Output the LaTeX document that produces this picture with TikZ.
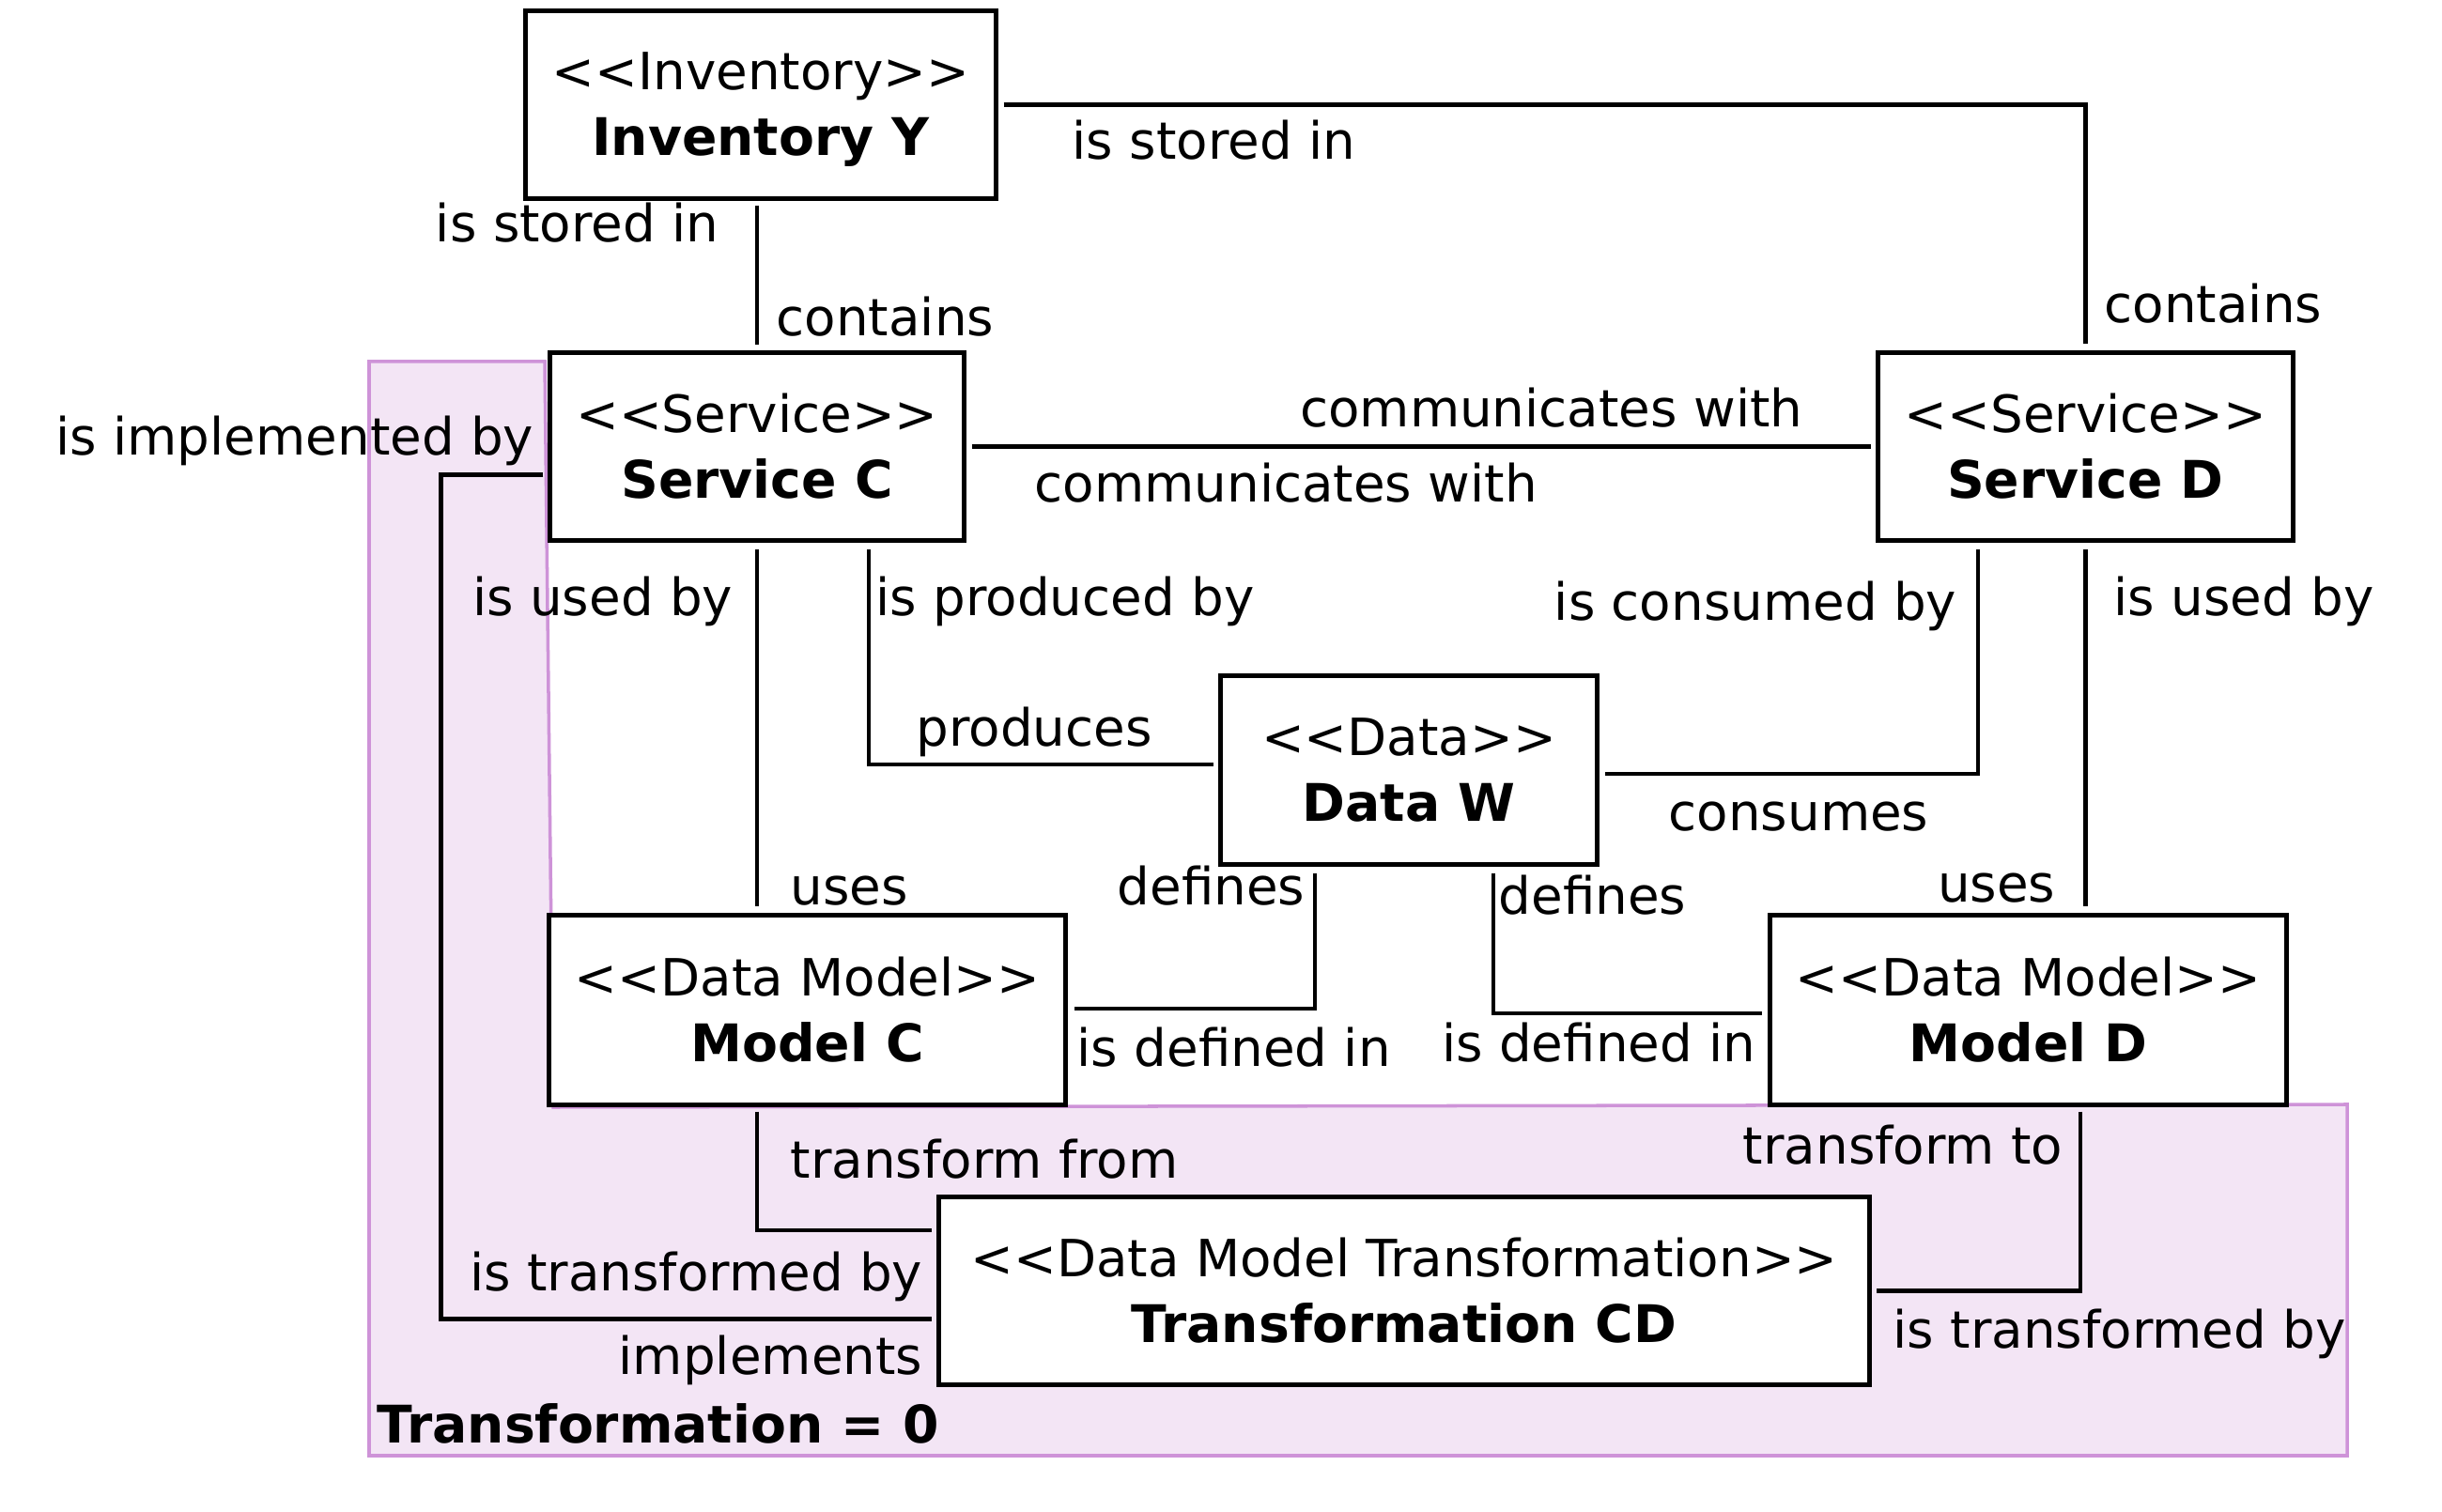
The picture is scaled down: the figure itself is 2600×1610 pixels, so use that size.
\documentclass[tikz,border=0pt]{standalone}
\usepackage{fontspec}
\setmainfont{DejaVu Sans}
\usetikzlibrary{calc}
\definecolor{grpfill}{HTML}{F3E5F5}
\definecolor{grpdraw}{HTML}{CE93D8}
\newcommand\nmtxt[1]{{\fontsize{15.7}{19.9}\selectfont\bfseries #1}}
\begin{document}
\begin{tikzpicture}[x=0.01cm,y=-0.01cm,
  font=\fontsize{15.55}{19.9}\selectfont,
  box/.style={draw, line width=1.4pt, fill=white, minimum height=1.99cm, inner sep=0pt, align=center},
  conn/.style={line width=1.2pt},
  lbl/.style={inner sep=0pt}]
\useasboundingbox (0,0) rectangle (2600,1610);
% group
\draw[grpdraw, fill=grpfill, line width=1pt] (393,385) -- (580,385) -- (589,1179) -- (2499,1176) -- (2499,1550) -- (393,1550) -- cycle;
\node[lbl, anchor=base west] (grp) at (401,1536) {\nmtxt{Transformation = 0}};
% nodes
\node[box, minimum width=5cm] (invY) at (810,111.5) {\rule{0pt}{0.5cm}<{}<Inventory>{}>\\\nmtxt{Inventory Y}};
\node[box, minimum width=4.4cm] (svcC) at (806,475.5) {<{}<Service>{}>\\\nmtxt{Service C}};
\node[box, minimum width=4.41cm] (svcD) at (2220.5,475.5) {<{}<Service>{}>\\\nmtxt{Service D}};
\node[box, minimum width=4cm, minimum height=2cm] (dataW) at (1500,820) {<{}<Data>{}>\\\nmtxt{Data W}};
\node[box, minimum width=5.49cm, minimum height=2.01cm] (modelC) at (859.5,1075.5) {<{}<Data Model>{}>\\\nmtxt{Model C}};
\node[box, minimum width=5.49cm, minimum height=2.01cm] (modelD) at (2159.5,1075.5) {<{}<Data Model>{}>\\\nmtxt{Model D}};
\node[box, minimum width=9.9cm] (trCD) at (1495,1374.5) {<{}<Data Model Transformation>{}>\\\nmtxt{Transformation CD}};
% connectors
\draw[conn] (svcC.north |- invY.south) ++(0,5) -- ([yshift=0.06cm]svcC.north);
\draw[conn] ([xshift=0.06cm]invY.east) -| ([yshift=0.07cm]svcD.north);
\draw[conn] ([xshift=0.06cm]svcC.east) -- ([xshift=-0.05cm]svcD.west);
\draw[conn] ([xshift=-0.05cm,yshift=-0.3cm]svcC.west) -- ++(-109,0) |- ([xshift=-0.05cm,yshift=-0.3cm]trCD.west);
\draw[conn] ([xshift=-0.535cm,yshift=-0.05cm]modelC.south) |- ([xshift=-0.05cm,yshift=0.645cm]trCD.west);
\draw[conn] ([yshift=-0.07cm]svcC.south) -- ([yshift=0.07cm]svcC.south |- modelC.north);
\draw[conn] ([xshift=1.19cm,yshift=-0.07cm]svcC.south) |- ([xshift=-0.05cm,yshift=0.06cm]dataW.west);
\draw[conn] ([xshift=-1.145cm,yshift=-0.07cm]svcD.south) |- ([xshift=0.06cm,yshift=-0.04cm]dataW.east);
\draw[conn] ([yshift=-0.07cm]svcD.south) -- ([yshift=0.07cm]svcD.south |- modelD.north);
\draw[conn] ([xshift=-1.0cm,yshift=-0.07cm]dataW.south) |- ([xshift=0.07cm,yshift=0.015cm]modelC.east);
\draw[conn] ([xshift=0.9cm,yshift=-0.07cm]dataW.south) |- ([xshift=-0.06cm,yshift=-0.035cm]modelD.west);
\draw[conn] ([xshift=0.555cm,yshift=-0.05cm]modelD.south) |- ([xshift=0.05cm]trCD.east);
% labels
\node[lbl, anchor=base east] (l1) at (766,258) {is stored in};
\node[lbl, anchor=base west] (l2) at (826,358) {contains};
\node[lbl, anchor=base west] (l3) at (1141,170) {is stored in};
\node[lbl, anchor=base west] (l4) at (2240,344) {contains};
\node[lbl, anchor=base east] (l5) at (1920,455) {communicates with};
\node[lbl, anchor=base west] (l6) at (1101,535) {communicates with};
\node[lbl, anchor=base east] (l7) at (569,485) {is implemented by};
\node[lbl, anchor=base east] (l8) at (781,656) {is used by};
\node[lbl, anchor=base west] (l9) at (932,656) {is produced by};
\node[lbl, anchor=base east] (l10) at (2084,661) {is consumed by};
\node[lbl, anchor=base west] (l11) at (2250,656) {is used by};
\node[lbl, anchor=base west] (l12) at (975,795) {produces};
\node[lbl, anchor=base west] (l13) at (1776,885) {consumes};
\node[lbl, anchor=base west] (l14) at (841,964) {uses};
\node[lbl, anchor=base east] (l15) at (1390,964) {defines};
\node[lbl, anchor=base west] (l16) at (1595,974) {defines};
\node[lbl, anchor=base east] (l17) at (2189,961) {uses};
\node[lbl, anchor=base west] (l18) at (1146,1135) {is defined in};
\node[lbl, anchor=base east] (l19) at (1870,1130) {is defined in};
\node[lbl, anchor=base west] (l20) at (841,1254) {transform from};
\node[lbl, anchor=base east] (l21) at (2197,1239) {transform to};
\node[lbl, anchor=base east] (l22) at (983,1374) {is transformed by};
\node[lbl, anchor=base east] (l23) at (983,1463) {implements};
\node[lbl, anchor=base west] (l24) at (2015,1435) {is transformed by};
\end{tikzpicture}
\end{document}
